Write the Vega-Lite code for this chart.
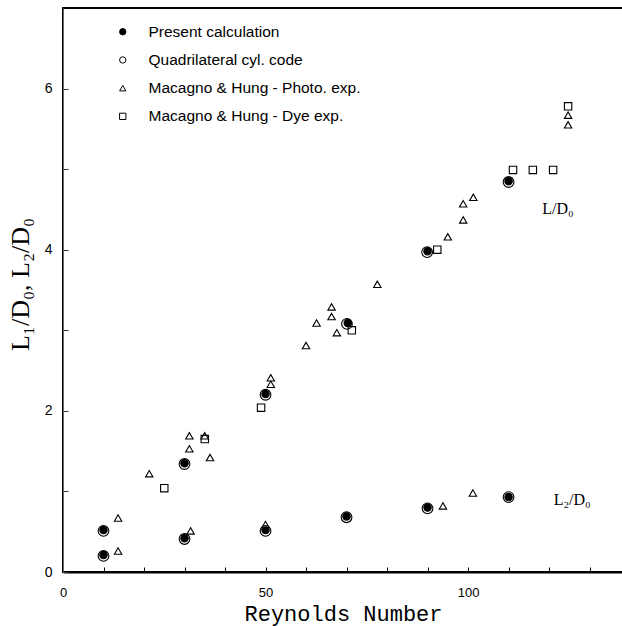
{
  "$schema": "https://vega.github.io/schema/vega-lite/v6.json",
  "width": 561,
  "height": 564,
  "autosize": {"type": "none"},
  "padding": {"left": 63, "top": 8, "right": 0, "bottom": 54},
  "background": "white",
  "config": {
    "view": {"stroke": "black", "strokeWidth": 2},
    "font": "Liberation Sans",
    "legend": {
      "orient": "none", "legendX": 52, "legendY": 16, "title": null,
      "labelFont": "Liberation Sans", "labelFontSize": 15.5, "labelColor": "black", "labelLimit": 400,
      "labelOffset": 18, "rowPadding": 11.2, "padding": 0,
      "symbolSize": 40, "symbolStrokeWidth": 1
    }
  },
  "datasets": {
    "points": [
      {"series": "Present calculation", "Re": 10, "L": 0.52},
      {"series": "Present calculation", "Re": 10, "L": 0.21},
      {"series": "Present calculation", "Re": 30, "L": 1.35},
      {"series": "Present calculation", "Re": 30, "L": 0.42},
      {"series": "Present calculation", "Re": 50, "L": 2.21},
      {"series": "Present calculation", "Re": 50, "L": 0.52},
      {"series": "Present calculation", "Re": 70.3, "L": 3.09},
      {"series": "Present calculation", "Re": 70, "L": 0.69},
      {"series": "Present calculation", "Re": 90, "L": 3.98},
      {"series": "Present calculation", "Re": 90, "L": 0.8},
      {"series": "Present calculation", "Re": 110, "L": 4.85},
      {"series": "Present calculation", "Re": 110, "L": 0.93},
      {"series": "Macagno & Hung - Photo. exp.", "Re": 13.6, "L": 0.67},
      {"series": "Macagno & Hung - Photo. exp.", "Re": 13.6, "L": 0.26},
      {"series": "Macagno & Hung - Photo. exp.", "Re": 21.3, "L": 1.22},
      {"series": "Macagno & Hung - Photo. exp.", "Re": 31.2, "L": 1.69},
      {"series": "Macagno & Hung - Photo. exp.", "Re": 31.2, "L": 1.53},
      {"series": "Macagno & Hung - Photo. exp.", "Re": 31.5, "L": 0.51},
      {"series": "Macagno & Hung - Photo. exp.", "Re": 35, "L": 1.69},
      {"series": "Macagno & Hung - Photo. exp.", "Re": 36.3, "L": 1.42},
      {"series": "Macagno & Hung - Photo. exp.", "Re": 50, "L": 0.59},
      {"series": "Macagno & Hung - Photo. exp.", "Re": 51.3, "L": 2.41},
      {"series": "Macagno & Hung - Photo. exp.", "Re": 51.3, "L": 2.33},
      {"series": "Macagno & Hung - Photo. exp.", "Re": 60, "L": 2.81},
      {"series": "Macagno & Hung - Photo. exp.", "Re": 62.6, "L": 3.09},
      {"series": "Macagno & Hung - Photo. exp.", "Re": 66.3, "L": 3.29},
      {"series": "Macagno & Hung - Photo. exp.", "Re": 66.3, "L": 3.17},
      {"series": "Macagno & Hung - Photo. exp.", "Re": 67.6, "L": 2.97},
      {"series": "Macagno & Hung - Photo. exp.", "Re": 77.6, "L": 3.57},
      {"series": "Macagno & Hung - Photo. exp.", "Re": 93.8, "L": 0.82},
      {"series": "Macagno & Hung - Photo. exp.", "Re": 95, "L": 4.16},
      {"series": "Macagno & Hung - Photo. exp.", "Re": 98.8, "L": 4.37},
      {"series": "Macagno & Hung - Photo. exp.", "Re": 98.8, "L": 4.57},
      {"series": "Macagno & Hung - Photo. exp.", "Re": 101.3, "L": 4.65},
      {"series": "Macagno & Hung - Photo. exp.", "Re": 101.2, "L": 0.98},
      {"series": "Macagno & Hung - Photo. exp.", "Re": 124.7, "L": 5.67},
      {"series": "Macagno & Hung - Photo. exp.", "Re": 124.7, "L": 5.55},
      {"series": "Macagno & Hung - Dye exp.", "Re": 25, "L": 1.04},
      {"series": "Macagno & Hung - Dye exp.", "Re": 35, "L": 1.65},
      {"series": "Macagno & Hung - Dye exp.", "Re": 48.9, "L": 2.04},
      {"series": "Macagno & Hung - Dye exp.", "Re": 71.3, "L": 3.0},
      {"series": "Macagno & Hung - Dye exp.", "Re": 92.4, "L": 4.0},
      {"series": "Macagno & Hung - Dye exp.", "Re": 111.1, "L": 4.99},
      {"series": "Macagno & Hung - Dye exp.", "Re": 116, "L": 4.99},
      {"series": "Macagno & Hung - Dye exp.", "Re": 121, "L": 4.99},
      {"series": "Macagno & Hung - Dye exp.", "Re": 124.7, "L": 5.78}
    ],
    "quad": [
      {"series": "Quadrilateral cyl. code", "Re": 10, "L": 0.51},
      {"series": "Quadrilateral cyl. code", "Re": 10, "L": 0.2},
      {"series": "Quadrilateral cyl. code", "Re": 30, "L": 1.34},
      {"series": "Quadrilateral cyl. code", "Re": 30, "L": 0.41},
      {"series": "Quadrilateral cyl. code", "Re": 50, "L": 2.2},
      {"series": "Quadrilateral cyl. code", "Re": 50, "L": 0.51},
      {"series": "Quadrilateral cyl. code", "Re": 70.1, "L": 3.08},
      {"series": "Quadrilateral cyl. code", "Re": 70, "L": 0.68},
      {"series": "Quadrilateral cyl. code", "Re": 89.9, "L": 3.97},
      {"series": "Quadrilateral cyl. code", "Re": 90, "L": 0.79},
      {"series": "Quadrilateral cyl. code", "Re": 110, "L": 4.84},
      {"series": "Quadrilateral cyl. code", "Re": 110, "L": 0.93}
    ],
    "notes": [
      {"label": "L/D₀", "Re": 122.2, "L": 4.51},
      {"label": "L₂/D₀", "Re": 125.7, "L": 0.89}
    ]
  },
  "layer": [
    {
      "data": {"name": "points"},
      "mark": {"type": "point", "strokeWidth": 1.1, "opacity": 1, "size": 55},
      "encoding": {
        "x": {
          "field": "Re", "type": "quantitative",
          "scale": {"domain": [0, 138.5], "nice": false, "zero": false},
          "axis": {
            "title": "Reynolds Number",
            "titleFont": "Liberation Mono", "titleFontSize": 22, "titleFontWeight": "normal",
            "titleColor": "black", "titlePadding": 4, "titleX": 280,
            "values": [0, 10, 20, 30, 40, 50, 60, 70, 80, 90, 100, 110, 120, 130],
            "labelExpr": "datum.value % 50 === 0 ? datum.label : ''",
            "labelFont": "Liberation Sans", "labelFontSize": 13, "labelColor": "black",
            "labelPadding": 19, "labelFlush": false,
            "tickSize": -5, "tickColor": "black", "tickWidth": 1,
            "domainColor": "black", "domainWidth": 2, "grid": false
          }
        },
        "y": {
          "field": "L", "type": "quantitative",
          "scale": {"domain": [0, 7], "nice": false, "zero": false},
          "axis": {
            "title": "L₁/D₀, L₂/D₀",
            "titleFont": "Liberation Serif", "titleFontSize": 26, "titleFontWeight": "normal",
            "titleColor": "black", "titlePadding": 11, "titleY": 276,
            "values": [0, 0.5, 1, 1.5, 2, 2.5, 3, 3.5, 4, 4.5, 5, 5.5, 6, 6.5],
            "format": "d",
            "labelExpr": "datum.value % 2 === 0 ? datum.label : ''",
            "labelFont": "Liberation Sans", "labelFontSize": 14, "labelColor": "black",
            "labelPadding": 16, "labelFlush": false,
            "tickSize": -5, "tickColor": "#333", "tickWidth": 1,
            "domainColor": "#666", "domainWidth": 1, "grid": false
          }
        },
        "shape": {
          "field": "series", "type": "nominal",
          "scale": {
            "domain": ["Present calculation", "Quadrilateral cyl. code", "Macagno & Hung - Photo. exp.", "Macagno & Hung - Dye exp."],
            "range": ["circle", "circle", "triangle-up", "square"]
          }
        },
        "fill": {
          "field": "series", "type": "nominal",
          "scale": {
            "domain": ["Present calculation", "Quadrilateral cyl. code", "Macagno & Hung - Photo. exp.", "Macagno & Hung - Dye exp."],
            "range": ["black", "white", "white", "white"]
          }
        },
        "fillOpacity": {
          "field": "series", "type": "nominal",
          "scale": {
            "domain": ["Present calculation", "Quadrilateral cyl. code", "Macagno & Hung - Photo. exp.", "Macagno & Hung - Dye exp."],
            "range": [1, 0, 0, 0]
          }
        },
        "stroke": {
          "field": "series", "type": "nominal",
          "scale": {
            "domain": ["Present calculation", "Quadrilateral cyl. code", "Macagno & Hung - Photo. exp.", "Macagno & Hung - Dye exp."],
            "range": ["black", "black", "black", "black"]
          }
        }
      }
    },
    {
      "data": {"name": "quad"},
      "mark": {"type": "point", "shape": "circle", "size": 115, "stroke": "black", "strokeWidth": 1.1, "fill": "transparent", "opacity": 1},
      "encoding": {
        "x": {"field": "Re", "type": "quantitative"},
        "y": {"field": "L", "type": "quantitative"}
      }
    },
    {
      "data": {"name": "notes"},
      "mark": {"type": "text", "font": "Liberation Serif", "fontSize": 16, "color": "black", "align": "center", "baseline": "middle"},
      "encoding": {
        "x": {"field": "Re", "type": "quantitative"},
        "y": {"field": "L", "type": "quantitative"},
        "text": {"field": "label"}
      }
    }
  ]
}
